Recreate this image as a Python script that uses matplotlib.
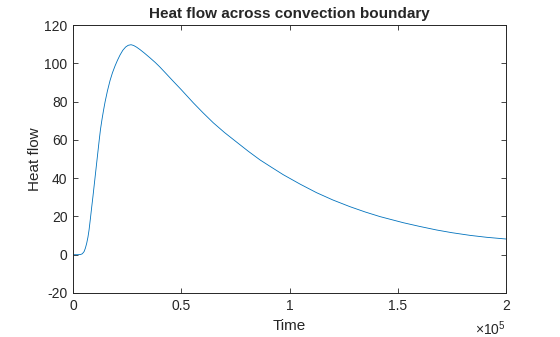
import matplotlib
matplotlib.use('Agg')
import matplotlib.pyplot as plt

plt.rcParams['font.family'] = ['Liberation Sans', 'DejaVu Sans']
plt.rcParams['mathtext.fontset'] = 'custom'
plt.rcParams['mathtext.rm'] = 'Liberation Sans'
plt.rcParams['mathtext.default'] = 'regular'
plt.rcParams['axes.unicode_minus'] = False

# values (time in s, heat flow)
time = [0, 2000, 3500, 4300, 5100, 5700, 6300, 6900, 7400, 8000, 8600, 9200,
        9700, 10300, 10900, 11500, 12100, 12700, 13400, 14100, 14800, 15900,
        17100, 18200, 19400, 20500, 21700, 23000, 24300, 25500, 26800, 28000,
        29400, 31000, 33000, 35600, 38000, 40000, 43000, 46300, 50000, 55600,
        60000, 64800, 70000, 75600, 81000, 86400, 91500, 97100, 105000, 112500,
        120000, 127900, 135000, 141800, 152600, 160000, 168000, 175000, 183400,
        191000, 200000]
heat = [0, 0, 0.1, 0.5, 1.6, 3.4, 5.9, 9.2, 12.9, 18.6, 24.6, 30.4,
        35.5, 41.6, 47.7, 53.8, 59.9, 65.6, 70.8, 75.5, 79.8, 85.6,
        91.0, 95.0, 98.6, 101.5, 104.3, 106.8, 108.5, 109.4, 109.7, 109.3,
        108.4, 107.1, 105.3, 102.8, 100.4, 98.2, 94.6, 90.6, 86.2, 79.3,
        74.2, 68.9, 63.8, 58.8, 54.0, 49.5, 45.8, 41.8, 36.8, 32.4,
        28.6, 25.1, 22.3, 19.9, 16.7, 14.8, 12.9, 11.5, 10.1, 9.1, 8.2]

xticks = [0, 0.5e5, 1e5, 1.5e5, 2e5]
yticks = [-20, 0, 20, 40, 60, 80, 100, 120]

fig = plt.figure(figsize=(5.6, 3.37), dpi=100)
ax = fig.add_axes([0.1304, 0.1306, 0.7732, 0.7952])
ax.plot(time, heat, color='#0072BD', linewidth=0.6)

ax.set_xlim(0, 2e5)
ax.set_ylim(-20, 120)
ax.set_xticks(xticks)
ax.set_xticklabels(['%g' % (t / 1e5) for t in xticks])
ax.set_yticks(yticks)
ax.tick_params(direction='in', length=3.5, width=0.6, top=True, right=True,
               labelsize=10, colors='#262626', pad=4)
for s in ax.spines.values():
    s.set_linewidth(0.7)
    s.set_color('#262626')

ax.set_xlabel('Time', fontsize=11, color='#262626', labelpad=5)
ax.set_ylabel('Heat flow', fontsize=11, color='#262626', labelpad=1.5)
ax.set_title('Heat flow across convection boundary', fontsize=11,
             fontweight='bold', color='#262626', pad=5)
ax.text(1.0, -0.1, r'×10$^{5}$', transform=ax.transAxes, ha='right', va='top',
        fontsize=10, color='#262626')

fig.savefig('out.png', dpi=100)
